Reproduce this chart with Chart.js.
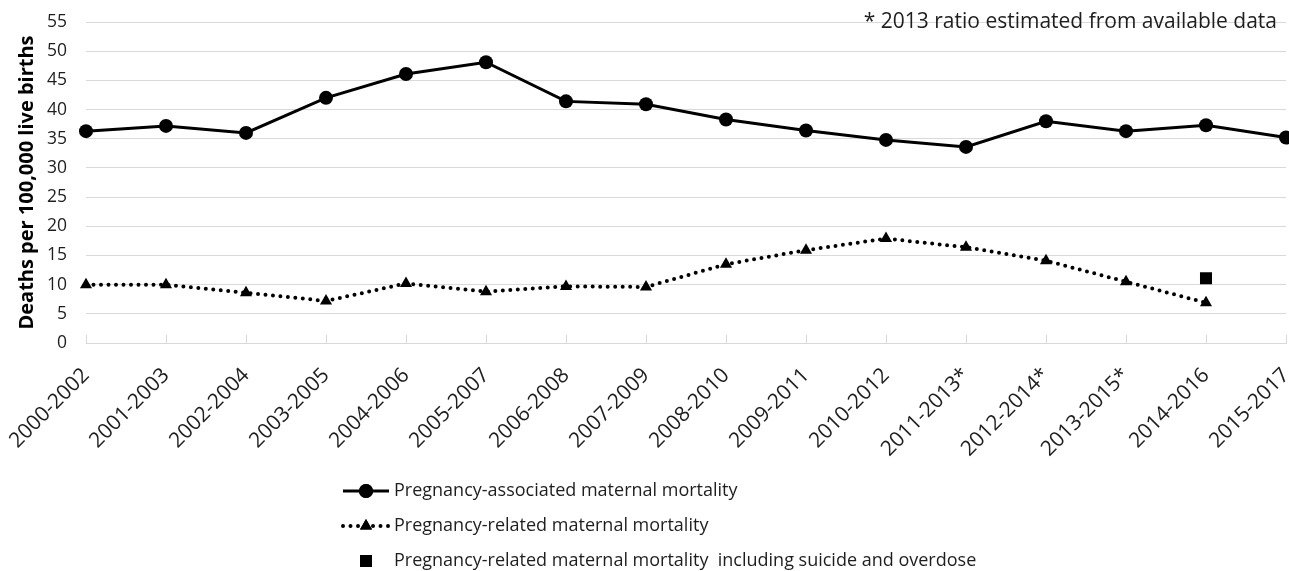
<!DOCTYPE html>
<html><head><meta charset="utf-8">
<script src="https://cdn.jsdelivr.net/npm/chart.js@4.4.1/dist/chart.umd.min.js"></script>
<style>html,body{margin:0;padding:0;background:#fff;}</style>
</head><body>
<canvas id="c" width="1289" height="571"></canvas>
<script>
const categories = ['2000-2002','2001-2003','2002-2004','2003-2005','2004-2006','2005-2007','2006-2008','2007-2009','2008-2010','2009-2011','2010-2012','2011-2013*','2012-2014*','2013-2015*','2014-2016','2015-2017'];
const associated = [36.3, 37.2, 36.0, 42.0, 46.1, 48.1, 41.4, 40.9, 38.3, 36.4, 34.8, 33.6, 38.0, 36.3, 37.3, 35.2];
const related = [10.0, 10.0, 8.6, 7.2, 10.2, 8.8, 9.7, 9.6, 13.5, 15.9, 17.9, 16.4, 14.1, 10.5, 6.9, null];
const relatedSuicide = [null, null, null, null, null, null, null, null, null, null, null, null, null, null, 11.1, null];
const seriesLabels = ['Pregnancy-associated maternal mortality', 'Pregnancy-related maternal mortality', 'Pregnancy-related maternal mortality  including suicide and overdose'];
const yTitle = 'Deaths per 100,000 live births';
const yMin = 0, yMax = 55, yStep = 5;
const note = '* 2013 ratio estimated from available data';

const FONT = "'Open Sans', sans-serif";
const TXT = '#1e1e1e';
const GRID = '#d9d9d9';

const customDraw = {
  id: 'customDraw',
  beforeDatasetsDraw(chart) {
    const ctx = chart.ctx, ca = chart.chartArea, xs = chart.scales.x;
    ctx.save();
    ctx.strokeStyle = GRID; ctx.lineWidth = 1;
    for (let i = 0; i < categories.length; i++) {
      const px = Math.round(xs.getPixelForTick(i)) + 0.5;
      ctx.beginPath(); ctx.moveTo(px, ca.bottom); ctx.lineTo(px, ca.bottom - 8); ctx.stroke();
    }
    ctx.restore();
  },
  afterDraw(chart) {
    const ctx = chart.ctx;
    ctx.save();
    ctx.font = "21px " + FONT; ctx.fillStyle = TXT;
    ctx.textAlign = 'right'; ctx.textBaseline = 'middle';
    ctx.fillText(note, 1277, 22);
    const rows = [491, 526, 561];
    const x0 = 343, x1 = 389, xm = 366, tx = 394;
    chart.data.datasets.forEach((ds, i) => {
      const y = rows[i];
      if (ds.showLine !== false) {
        ctx.save();
        ctx.strokeStyle = '#000'; ctx.lineWidth = ds.borderWidth;
        ctx.lineCap = ds.borderCapStyle || 'butt';
        ctx.setLineDash(ds.borderDash || []);
        ctx.beginPath(); ctx.moveTo(x0, y); ctx.lineTo(x1, y); ctx.stroke();
        ctx.restore();
      }
      ctx.fillStyle = '#000'; ctx.strokeStyle = '#000';
      Chart.helpers.drawPoint(ctx, {pointStyle: ds.pointStyle, radius: ds.pointRadius, borderWidth: 0, rotation: 0}, xm, y);
      ctx.fill();
      ctx.fillStyle = TXT; ctx.textAlign = 'left'; ctx.textBaseline = 'middle';
      ctx.font = "18px " + FONT;
      ctx.fillText(ds.label, tx, y);
    });
    ctx.restore();
  }
};

const ctx = document.getElementById('c').getContext('2d');
new Chart(ctx, {
  type: 'line',
  data: {
    labels: categories,
    datasets: [
      { label: seriesLabels[0], data: associated, borderColor: '#000', backgroundColor: '#000', borderWidth: 3,
        pointStyle: 'circle', pointRadius: 7, pointBorderWidth: 0, pointBackgroundColor: '#000', fill: false, tension: 0 },
      { label: seriesLabels[1], data: related, borderColor: '#000', backgroundColor: '#000', borderWidth: 4,
        borderDash: [0, 7.5], borderCapStyle: 'round', pointStyle: 'triangle', pointRadius: 7, pointBorderWidth: 0,
        pointBackgroundColor: '#000', fill: false, tension: 0, spanGaps: false },
      { label: seriesLabels[2], data: relatedSuicide, borderColor: '#000', backgroundColor: '#000', showLine: false,
        pointStyle: 'rect', pointRadius: 8.5, pointBorderWidth: 0, pointBackgroundColor: '#000' }
    ]
  },
  options: {
    responsive: false, animation: false, devicePixelRatio: 1,
    layout: { padding: { top: 22, right: 3, left: 0, bottom: 0 }, autoPadding: false },
    plugins: { legend: { display: false }, tooltip: { enabled: false } },
    scales: {
      x: {
        offset: false,
        grid: { display: false, drawTicks: false },
        border: { display: true, color: GRID, width: 1 },
        ticks: { autoSkip: false, maxRotation: 45, minRotation: 45, padding: 20, color: TXT,
                 font: { family: FONT, size: 21 } },
        afterFit(s) { s.height = 228; s.paddingLeft = 0; s.paddingRight = 0; }
      },
      y: {
        min: yMin, max: yMax,
        grid: { color: GRID, drawTicks: false },
        border: { display: false },
        ticks: { stepSize: yStep, padding: 19, color: TXT, font: { family: FONT, size: 17.5 } },
        title: { display: true, text: yTitle, color: '#000', padding: { top: 15, bottom: 0 },
                 font: { family: FONT, size: 20, weight: 'bold' } },
        afterFit(s) { s.width = 86; s.paddingTop = 0; s.paddingBottom = 0; }
      }
    }
  },
  plugins: [customDraw]
});
</script>
</body></html>
